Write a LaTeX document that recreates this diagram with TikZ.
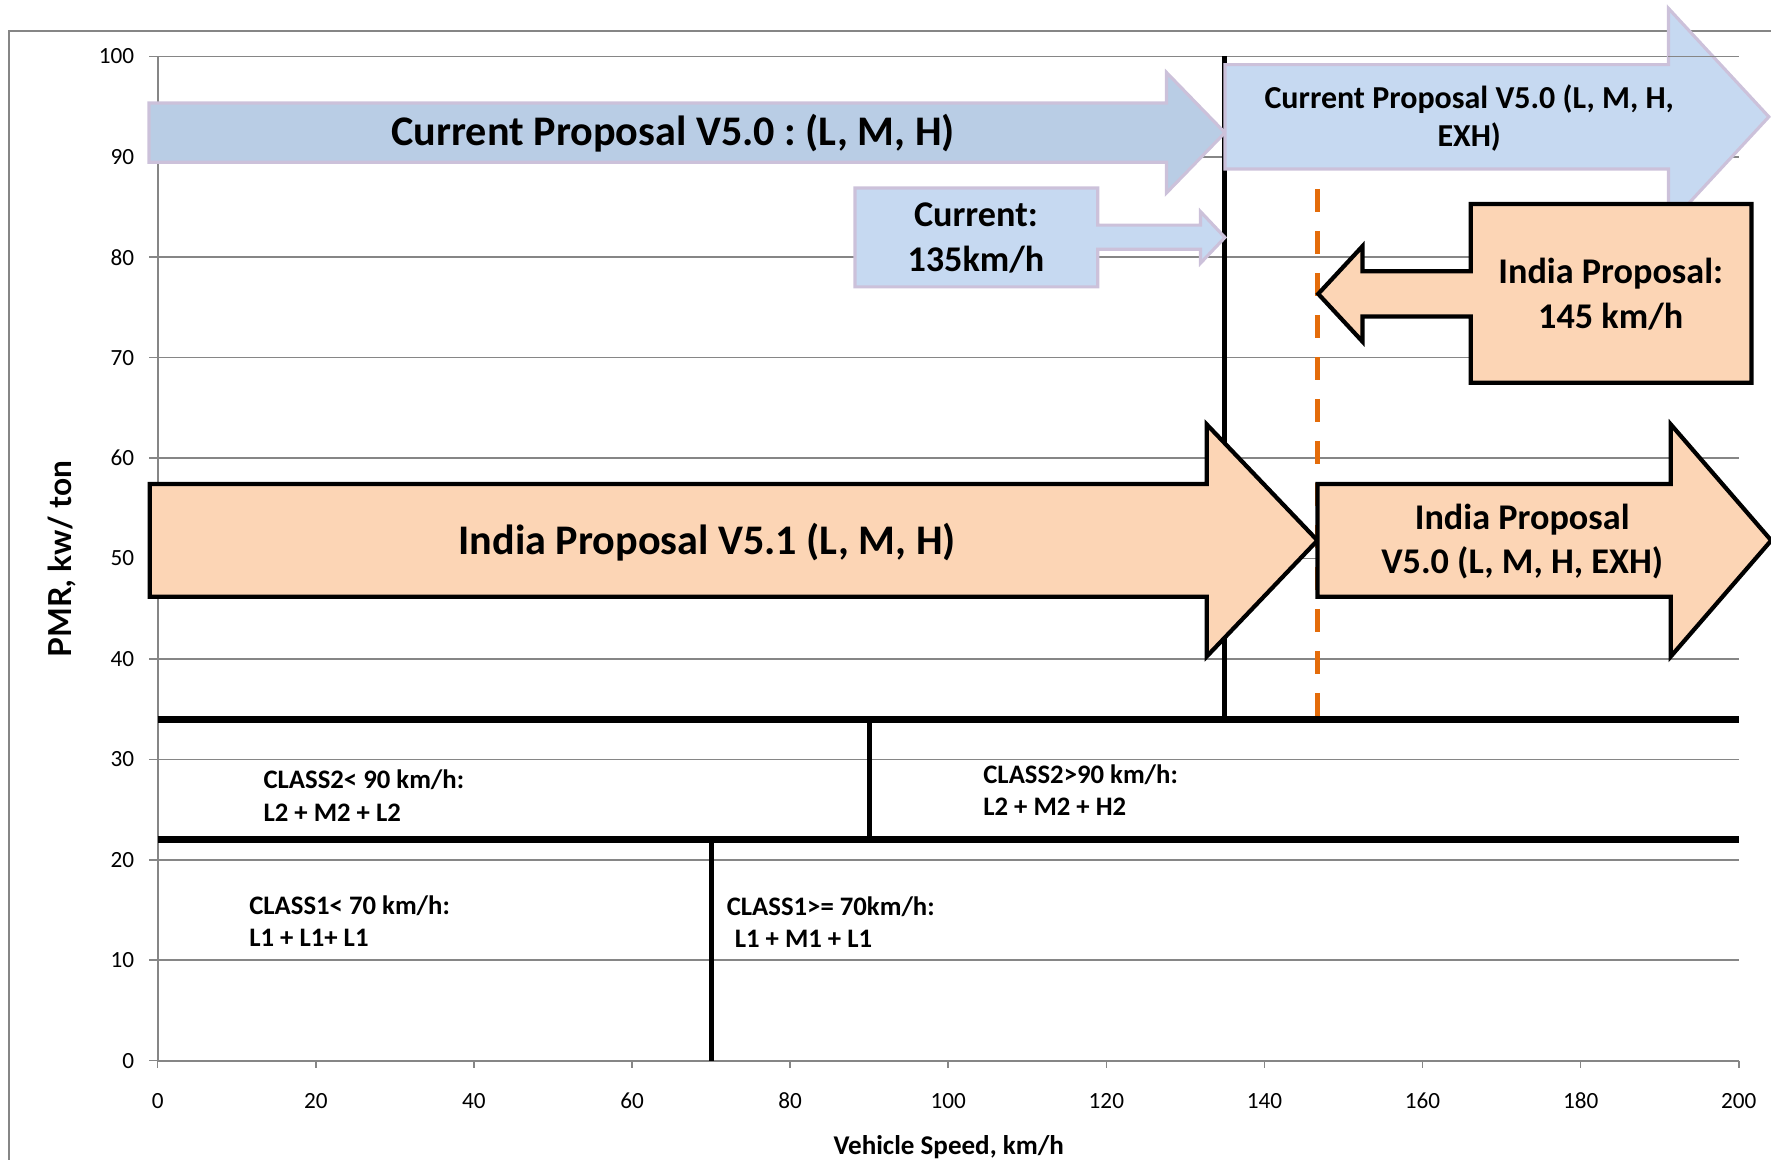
\documentclass[tikz,border=0pt]{standalone}
\usepackage{fontspec}
\setmainfont{Carlito}
\newfontfamily\axisfont{Lato}
\usetikzlibrary{positioning}
\definecolor{gridgray}{HTML}{868686}
\definecolor{blueA}{HTML}{B9CDE5}
\definecolor{blueB}{HTML}{C6D9F1}
\definecolor{lavender}{HTML}{CCC1DA}
\definecolor{peach}{HTML}{FCD5B5}
\definecolor{dashorange}{HTML}{E46C0A}
\frenchspacing
\tikzset{
  grid line/.style={gridgray, line width=0.45pt},
  class line/.style={line width=1.9pt},
  class sep/.style={line width=1.4pt},
  blue arrow/.style={draw=lavender, line width=0.9pt, line join=miter},
  india arrow/.style={draw=black, fill=peach, line width=1.2pt, line join=miter},
  big label/.style={font=\bfseries\fontsize{12}{14}\selectfont, align=center},
  mid label/.style={font=\bfseries\fontsize{10.3}{12.7}\selectfont, align=center},
  class label/.style={font=\bfseries\fontsize{7.6}{9.3}\selectfont, align=left, anchor=west, inner sep=0pt},
  tick label/.style={font=\fontsize{6.6}{8}\selectfont, inner sep=0pt},
}

\begin{document}
\begin{tikzpicture}
\path[use as bounding box, clip] (0,0) rectangle (17.71,11.60);
% Chart frame
\draw[gridgray, line width=0.6pt] (0.086,-1) |- (18,11.294);
\begin{scope}[shift={(1.577,0.993)}, x=0.079055cm, y=0.10044cm]
% Gridlines, ticks and tick labels
\foreach \y in {10,20,...,100} \draw[grid line] (0,\y) -- (200,\y);
\foreach \y in {0,10,...,100} {
  \draw[grid line] (-1.07,\y) -- (0,\y);
  \node[tick label, anchor=east] (ylab\y) at (-2.9,\y) {\y};
}
\foreach \x in {0,20,...,200} {
  \draw[grid line] (\x,0) -- (\x,-0.7);
  \node[tick label] (xlab\x) at (\x,-4) {\x};
}
\draw[gridgray, line width=0.6pt] (0,100) -- (0,0) -- (200,0);
% Axis titles
\node[font=\axisfont\bfseries\fontsize{9}{10}\selectfont, rotate=90] (ytitle) at (-12.1,49.95) {PMR, kw/ ton};
\node[font=\bfseries\fontsize{7.7}{9}\selectfont] (xtitle) at (100.07,-8.65) {Vehicle Speed, km/h};
% Speed limits
\draw[class sep] (135,100) -- (135,34);
\draw[dashorange, line width=1.3pt, dash pattern=on 0.23cm off 0.19cm] (146.7,86.8) -- (146.7,34);
% Class borders
\draw[class line] (0,34) -- (200,34);
\draw[class line] (0,22) -- (200,22);
\draw[class sep] (90,34) -- (90,22);
\draw[class sep] (70,22) -- (70,0);
% Current proposal (L, M, H)
\draw[blue arrow, fill=blueA] (-1.1,89.45) -- (127.6,89.45) -- (127.6,86.4) -- (135,92.4)
  -- (127.6,98.4) -- (127.6,95.35) -- (-1.1,95.35) -- cycle;
% Current proposal (L, M, H, EXH)
\draw[blue arrow, fill=blueB] (135,88.78) -- (191.1,88.78) -- (191.1,83.18) -- (203.8,93.98)
  -- (191.1,104.78) -- (191.1,99.18) -- (135,99.18) -- cycle;
\draw[grid line] (191.1,100) -- (200,100);
% Current speed callout
\draw[blue arrow, fill=blueB] (88.2,77.05) -- (118.9,77.05) -- (118.9,80.8) -- (131.9,80.8)
  -- (131.9,79.4) -- (135,81.97) -- (131.9,84.55) -- (131.9,83.2) -- (118.9,83.2)
  -- (118.9,86.9) -- (88.2,86.9) -- cycle;
% India speed callout
\draw[india arrow] (201.6,67.5) -- (166.1,67.5) -- (166.1,74.1) -- (152.4,74.1)
  -- (152.4,71.6) -- (146.8,76.35) -- (152.4,81.1) -- (152.4,78.6) -- (166.1,78.6)
  -- (166.1,85.3) -- (201.6,85.3) -- cycle;
% India proposal V5.1
\draw[india arrow] (-1,46.2) -- (132.7,46.2) -- (132.7,40.25) -- (146.7,51.8)
  -- (132.7,63.35) -- (132.7,57.42) -- (-1,57.42) -- cycle;
% India proposal V5.0
\draw[india arrow] (146.7,46.2) -- (191.4,46.2) -- (191.4,40.25) -- (204.1,51.8)
  -- (191.4,63.35) -- (191.4,57.42) -- (146.7,57.42) -- cycle;
% Arrow texts
\node[big label] (cpLMH) at (65.2,92.33) {Current Proposal V5.0 : (L, M, H)};
\node[font=\bfseries\fontsize{9.1}{10.6}\selectfont, align=center] (cpEXH) at (165.9,93.85) {Current Proposal V5.0 (L, M, H,\\ EXH)};
\node[mid label] (curSpeed) at (103.5,81.9) {Current:\\135km/h};
\node[mid label] (indSpeed) at (183.8,76.3) {India Proposal:\\145 km/h};
\node[big label] (ipLMH) at (69.5,51.6) {India Proposal V5.1 (L, M, H)};
\node[mid label] (ipEXH) at (172.6,51.7) {India Proposal\\V5.0 (L, M, H, EXH)};
% Class texts
\node[class label] (c2low) at (13.3,26.4) {CLASS2< 90 km/h:\\L2 + M2 + L2};
\node[class label] (c2high) at (104.35,26.95) {CLASS2>90 km/h:\\L2 + M2 + H2};
\node[class label] (c1low) at (11.5,13.9) {CLASS1< 70 km/h:\\L1 + L1+ L1};
\node[class label] (c1high) at (71.9,13.8) {CLASS1>= 70km/h:\\\hspace*{0.3em}L1 + M1 + L1};
\end{scope}
\end{tikzpicture}
\end{document}
